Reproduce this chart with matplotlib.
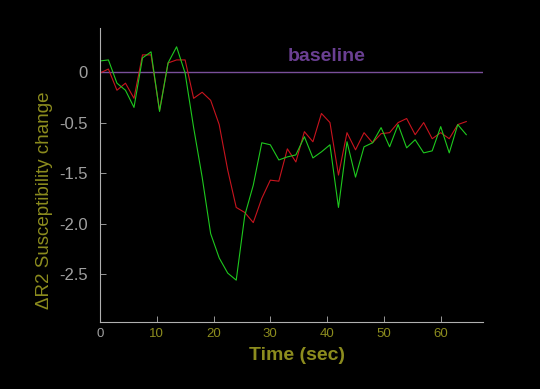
import matplotlib
matplotlib.use('Agg')
import matplotlib.pyplot as plt
import numpy as np

plt.rcParams['font.family'] = ['Liberation Sans', 'DejaVu Sans']

# Time grid: one sample every 1.5 s
time_sec = np.arange(44) * 1.5

red_series = [-0.01, 0.03, -0.18, -0.11, -0.26, 0.17, 0.17, -0.38, 0.09, 0.12,
              0.12, -0.26, -0.20, -0.28, -0.52, -0.97, -1.34, -1.39, -1.49, -1.25,
              -1.07, -1.08, -0.76, -0.89, -0.59, -0.69, -0.41, -0.50, -1.02, -0.60,
              -0.77, -0.60, -0.70, -0.61, -0.60, -0.50, -0.46, -0.62, -0.50, -0.66,
              -0.60, -0.66, -0.52, -0.49]

green_series = [0.11, 0.12, -0.11, -0.18, -0.35, 0.14, 0.20, -0.39, 0.09, 0.25,
                -0.01, -0.55, -1.04, -1.60, -1.84, -1.99, -2.06, -1.42, -1.12, -0.70,
                -0.72, -0.87, -0.84, -0.82, -0.64, -0.85, -0.79, -0.72, -1.34, -0.69,
                -1.04, -0.74, -0.70, -0.55, -0.74, -0.52, -0.75, -0.67, -0.80, -0.78,
                -0.54, -0.80, -0.52, -0.62]

y_ticks = [0, -0.5, -1.0, -1.5, -2.0]
y_tick_labels = ['0', '-0.5', '-1.5', '-2.0', '-2.5']
x_ticks = [0, 10, 20, 30, 40, 50, 60]

olive = '#8c8c1e'
gray = '#a0a0a0'

fig = plt.figure(figsize=(5.4, 3.89), dpi=100, facecolor='black')
ax = fig.add_axes([0.185, 0.172, 0.709, 0.756], facecolor='black')

ax.axhline(0, color='#7a4f9a', lw=1.0)
ax.plot(time_sec, red_series, color='#c8141e', lw=0.8)
ax.plot(time_sec, green_series, color='#1ec81e', lw=0.8)
ax.text(40, 0.15, 'baseline', color='#6a3f92', fontsize=14, fontweight='bold',
        ha='center', va='center')

ax.set_xlim(0, 67.4)
ax.set_ylim(-2.475, 0.436)

for s in ['top', 'right']:
    ax.spines[s].set_visible(False)
for s in ['left', 'bottom']:
    ax.spines[s].set_color('#b0b0b0')
    ax.spines[s].set_linewidth(0.8)

ax.set_yticks(y_ticks)
ax.set_yticklabels(y_tick_labels)
ax.set_xticks(x_ticks)
ax.set_xticklabels([str(x) for x in x_ticks])
ax.tick_params(axis='both', direction='in', color='#b0b0b0', length=4, width=0.6)
ax.tick_params(axis='y', labelsize=12, labelcolor=gray, pad=9)
ax.tick_params(axis='x', labelsize=9.5, labelcolor=olive, pad=4)
ax.get_xticklabels()[0].set_color(gray)

fig.text(297 / 540, 1 - 355 / 389, 'Time (sec)', color=olive, fontsize=14,
         fontweight='bold', ha='center', va='center')
fig.text(45 / 540, 1 - 200 / 389, '\u0394R2 Susceptibility change', color=olive,
         fontsize=13.5, rotation=90, ha='center', va='center')

fig.savefig('out.png', dpi=100, facecolor='black')
